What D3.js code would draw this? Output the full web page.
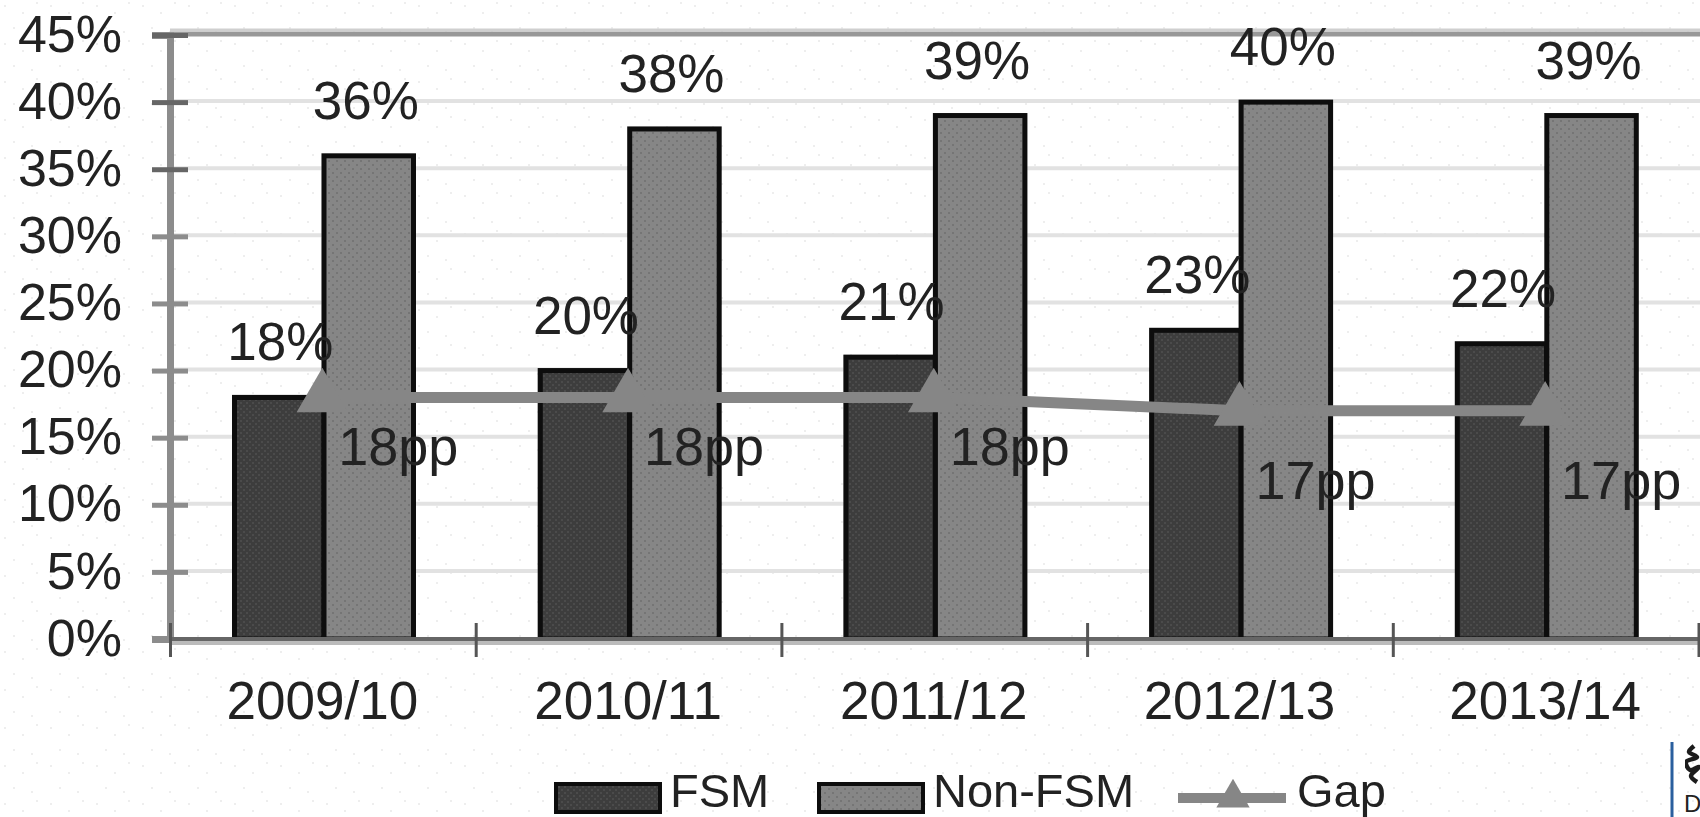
<!DOCTYPE html>
<html><head><meta charset="utf-8">
<style>
html,body{margin:0;padding:0;background:#fff;overflow:hidden}
svg{display:block}
text{font-family:"Liberation Sans",Arial,sans-serif;fill:#222}
</style>
<script src="https://cdn.jsdelivr.net/npm/d3@7"></script>
</head><body>
<script>
const categories=["2009/10","2010/11","2011/12","2012/13","2013/14"];
const fsmValues=[18,20,21,23,22];
const nonFsmValues=[36,38,39,40,39];
const gapValues=[18,18,18,17,17];
const yTicks=[0,5,10,15,20,25,30,35,40,45];
const legendItems=["FSM","Non-FSM","Gap"];

const W=1700,H=817;
const svg=d3.select("body").append("svg").attr("width",W).attr("height",H);
const defs=svg.append("defs");

function dots(id,w,h,bg,dot,cells){
  const p=defs.append("pattern").attr("id",id).attr("patternUnits","userSpaceOnUse").attr("width",w).attr("height",h);
  p.append("rect").attr("width",w).attr("height",h).attr("fill",bg);
  cells.forEach(c=>p.append("rect").attr("x",c[0]).attr("y",c[1]).attr("width",2).attr("height",2).attr("fill",dot));
}
dots("fsmFill",6,6,"#3d3d3d","#4b4b4b",[[0,0],[3,3]]);
dots("nonFill",8,8,"#868686","#747474",[[0,0],[4,4]]);
dots("paper",46,38,"#ffffff","#eeeeee",[[4,5],[22,12],[36,2],[13,27],[31,31]]);
defs.append("filter").attr("id","soft").attr("x","-5%").attr("y","-5%").attr("width","110%").attr("height","110%")
  .append("feGaussianBlur").attr("stdDeviation",0.75);

svg.append("rect").attr("width",W).attr("height",H).attr("fill","url(#paper)");
const g=svg.append("g").attr("filter","url(#soft)");

const y=d3.scaleLinear().domain([0,45]).range([639,35]);
const x0=d3.scaleBand().domain(categories).range([170.5,1699]);
const x1=d3.scaleBand().domain(["FSM","Non-FSM"]).range([64,243]);
const cx=c=>x0(c)+x0.bandwidth()/2;

// gridlines
g.append("g").selectAll("line").data(yTicks.filter(t=>t>0)).join("line")
  .attr("x1",170).attr("x2",W).attr("y1",d=>y(d)-1).attr("y2",d=>y(d)-1)
  .attr("stroke",d=>d===45?"#989898":"#e2e2e2").attr("stroke-width",d=>d===45?5:4);
g.append("line").attr("x1",170).attr("x2",W).attr("y1",y(45)-5).attr("y2",y(45)-5).attr("stroke","#cfcfcf").attr("stroke-width",3);

// y axis
const yAxis=g.append("g").attr("transform","translate(170,0)")
  .call(d3.axisLeft(y).tickValues(yTicks).tickFormat(d=>d+"%").tickSize(18).tickPadding(30));
yAxis.select(".domain").attr("stroke","#8c8c8c").attr("stroke-width",7);
yAxis.selectAll(".tick line").attr("stroke",d=>d>=35?"#666":"#8c8c8c").attr("stroke-width",5);
yAxis.selectAll(".tick").append("line").attr("x2",18).attr("stroke",d=>d>=35?"#666":"#8c8c8c").attr("stroke-width",5);
yAxis.selectAll("text").attr("font-size",52).attr("dy","0.31em").attr("x",-48)
  .style("font-family",'"Liberation Sans",Arial,sans-serif').style("fill","#222");

// bars
const barG=g.append("g");
function bars(values,name,fill){
  barG.selectAll(null).data(categories).join("rect")
    .attr("x",c=>x0(c)+x1(name)).attr("width",x1.bandwidth())
    .attr("y",(c,i)=>y(values[i])).attr("height",(c,i)=>y(0)-y(values[i]))
    .attr("fill",fill).attr("stroke","#0a0a0a").attr("stroke-width",5);
}
bars(fsmValues,"FSM","url(#fsmFill)");
bars(nonFsmValues,"Non-FSM","url(#nonFill)");

// x axis
const xAxis=g.append("g").attr("transform","translate(0,639)");
xAxis.append("line").attr("x1",170).attr("x2",W).attr("stroke","#666").attr("stroke-width",4);
xAxis.append("line").attr("x1",170).attr("x2",W).attr("y1",4).attr("y2",4).attr("stroke","#bbb").attr("stroke-width",4);
xAxis.selectAll(".sep").data(x0.domain().map(c=>x0(c)).concat([x0.range()[1]])).join("line")
  .attr("x1",d=>d).attr("x2",d=>d).attr("y1",-16).attr("y2",18).attr("stroke","#555").attr("stroke-width",3);
xAxis.selectAll(".cat").data(categories).join("text")
  .attr("x",c=>cx(c)-1).attr("y",80).attr("text-anchor","middle").attr("font-size",53).text(c=>c);

// gap line
const line=d3.line().x((v,i)=>cx(categories[i])).y(v=>y(v));
g.append("path").datum(gapValues).attr("d",line).attr("fill","none").attr("stroke","#868686").attr("stroke-width",11);
const tri=d3.symbol().type(d3.symbolTriangle).size(1150);
g.append("g").selectAll("path").data(gapValues).join("path")
  .attr("d",tri).attr("transform",(v,i)=>`translate(${cx(categories[i])-1},${y(v)})`).attr("fill","#868686");

// data labels
const labels=svg.append("g").attr("filter","url(#soft)").attr("font-size",53).attr("text-anchor","middle");
function valueLabels(values,name,nudge){
  labels.selectAll(null).data(categories).join("text")
    .attr("x",c=>x0(c)+x1(name)+x1.bandwidth()/2+nudge)
    .attr("y",(c,i)=>y(values[i])-37).text((c,i)=>values[i]+"%");
}
valueLabels(fsmValues,"FSM",1);
valueLabels(nonFsmValues,"Non-FSM",-3);
labels.selectAll(null).data(categories).join("text")
  .attr("x",c=>cx(c)+75)
  .attr("y",(c,i)=>y(gapValues[i])+(gapValues[i]<18?88:68))
  .attr("font-size",54).text((c,i)=>gapValues[i]+"pp");

// legend
const legend=svg.append("g").attr("filter","url(#soft)").attr("font-size",47);
const swatchX=d3.scaleOrdinal().domain(legendItems).range([554,817,1178]);
const swatchFill={"FSM":"url(#fsmFill)","Non-FSM":"url(#nonFill)"};
legendItems.slice(0,2).forEach(n=>{
  legend.append("rect").attr("x",swatchX(n)+2).attr("y",784).attr("width",104).attr("height",28)
    .attr("fill",swatchFill[n]).attr("stroke","#0a0a0a").attr("stroke-width",4);
  legend.append("text").attr("x",swatchX(n)+116).attr("y",807).text(n);
});
legend.append("line").attr("x1",swatchX("Gap")).attr("x2",swatchX("Gap")+108).attr("y1",798).attr("y2",798).attr("stroke","#868686").attr("stroke-width",10);
legend.append("path").attr("d",d3.symbol().type(d3.symbolTriangle).size(480)).attr("transform",`translate(${swatchX("Gap")+55},798)`).attr("fill","#868686");
legend.append("text").attr("x",swatchX("Gap")+119).attr("y",807).text("Gap");

// corner logo fragment
const logo=svg.append("g");
logo.append("line").attr("x1",1672).attr("x2",1672).attr("y1",742).attr("y2",817).attr("stroke","#2a5f9e").attr("stroke-width",3);
logo.append("path").attr("d",d3.line().curve(d3.curveCatmullRom)([[1694,746],[1689,752],[1697,757],[1686,762],[1690,770],[1699,767],[1691,776],[1697,782]]))
  .attr("fill","none").attr("stroke","#1c1c1c").attr("stroke-width",4.5).attr("filter","url(#soft)");
logo.append("text").attr("x",1684).attr("y",812).attr("font-size",24).style("fill","#222").text("D");
</script>
</body></html>
